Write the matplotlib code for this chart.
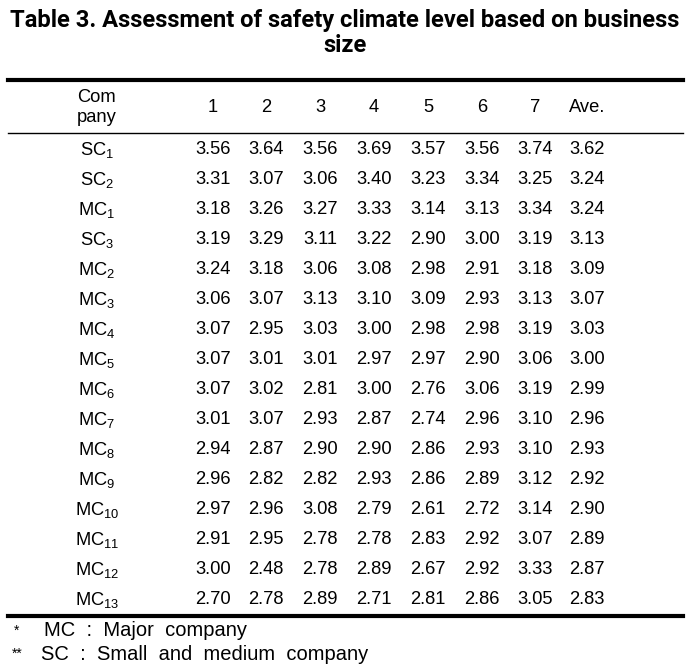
import matplotlib.pyplot as plt
from matplotlib.lines import Line2D

# ===== table data
companies = ["SC", "SC", "MC", "SC", "MC", "MC", "MC", "MC",
             "MC", "MC", "MC", "MC", "MC", "MC", "MC", "MC"]
company_idx = [1, 2, 1, 3, 2, 3, 4, 5, 6, 7, 8, 9, 10, 11, 12, 13]
columns = ["1", "2", "3", "4", "5", "6", "7", "Ave."]
col1 = [3.56, 3.31, 3.18, 3.19, 3.24, 3.06, 3.07, 3.07, 3.07, 3.01, 2.94, 2.96, 2.97, 2.91, 3.00, 2.70]
col2 = [3.64, 3.07, 3.26, 3.29, 3.18, 3.07, 2.95, 3.01, 3.02, 3.07, 2.87, 2.82, 2.96, 2.95, 2.48, 2.78]
col3 = [3.56, 3.06, 3.27, 3.11, 3.06, 3.13, 3.03, 3.01, 2.81, 2.93, 2.90, 2.82, 3.08, 2.78, 2.78, 2.89]
col4 = [3.69, 3.40, 3.33, 3.22, 3.08, 3.10, 3.00, 2.97, 3.00, 2.87, 2.90, 2.93, 2.79, 2.78, 2.89, 2.71]
col5 = [3.57, 3.23, 3.14, 2.90, 2.98, 3.09, 2.98, 2.97, 2.76, 2.74, 2.86, 2.86, 2.61, 2.83, 2.67, 2.81]
col6 = [3.56, 3.34, 3.13, 3.00, 2.91, 2.93, 2.98, 2.90, 3.06, 2.96, 2.93, 2.89, 2.72, 2.92, 2.92, 2.86]
col7 = [3.74, 3.25, 3.34, 3.19, 3.18, 3.13, 3.19, 3.06, 3.19, 3.10, 3.10, 3.12, 3.14, 3.07, 3.33, 3.05]
ave = [3.62, 3.24, 3.24, 3.13, 3.09, 3.07, 3.03, 3.00, 2.99, 2.96, 2.93, 2.92, 2.90, 2.89, 2.87, 2.83]

title1 = "Table 3. Assessment of safety climate level based on business"
title2 = "size"
notes = [("*", "MC  :  Major  company"), ("**", "SC  :  Small  and  medium  company")]


def main():
    plt.rcParams["font.family"] = ["Liberation Sans", "DejaVu Sans"]
    plt.rcParams["mathtext.default"] = "regular"

    W, H = 691, 672
    fig = plt.figure(figsize=(W / 100, H / 100), dpi=100)
    ax = fig.add_axes([0, 0, 1, 1])
    # 画素座標(y は下向き)
    ax.set_xlim(0, W)
    ax.set_ylim(H, 0)
    ax.axis("off")

    fs = 13.2
    # タイトル: 横幅 675px に収まるようにサイズ調整
    tkw = dict(ha="center", va="center", family=["Roboto", "DejaVu Sans"],
               fontweight="bold")
    t1 = ax.text(345, 21, title1, fontsize=16, **tkw)
    renderer = fig.canvas.get_renderer()
    w = t1.get_window_extent(renderer).width
    tfs = 16 * 674 / w
    t1.set_fontsize(tfs)
    ax.text(345, 45, title2, fontsize=tfs, **tkw)

    # 罫線
    ax.add_line(Line2D([8, 683], [80, 80], color="black", lw=3.0))
    ax.add_line(Line2D([8, 683], [133, 133], color="black", lw=1.0))
    ax.add_line(Line2D([8, 683], [616, 616], color="black", lw=3.0))

    # ヘッダ
    col_x = [213, 266, 320, 374, 428, 482, 535, 587]
    ax.text(97, 97, "Com", ha="center", va="center", fontsize=fs)
    ax.text(97, 118, "pany", ha="center", va="center", fontsize=fs)
    for x, c in zip(col_x, columns):
        ax.text(x, 107, c, ha="center", va="center", fontsize=fs)

    # 本体
    data = [col1, col2, col3, col4, col5, col6, col7, ave]
    row_y0, row_h = 150, 30
    for i, (name, k) in enumerate(zip(companies, company_idx)):
        y = row_y0 + i * row_h
        ax.text(97, y, f"{name}$_{{{k}}}$", ha="center", va="center", fontsize=fs)
        for x, col in zip(col_x, data):
            ax.text(x, y, f"{col[i]:.2f}", ha="center", va="center", fontsize=fs)

    # 注記
    for j, (mark, txt) in enumerate(notes):
        y = 631 + j * 23
        ax.text(12 if j else 14, y, mark, ha="left", va="center", fontsize=10)
        ax.text(44 if j == 0 else 41, y, txt, ha="left", va="center", fontsize=14.5)

    fig.savefig("out.png", dpi=100)


if __name__ == "__main__":
    main()
